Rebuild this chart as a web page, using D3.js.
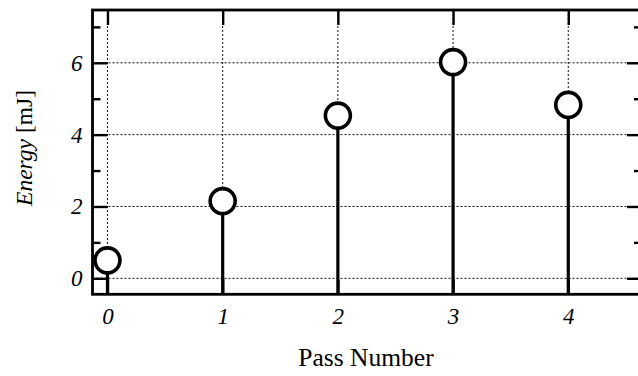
<!DOCTYPE html>
<html>
<head>
<meta charset="utf-8">
<script src="https://cdn.jsdelivr.net/npm/d3@7"></script>
<style>
  html, body { margin: 0; padding: 0; background: #fff; }
  svg { display: block; }
</style>
</head>
<body>
<svg id="chart" width="638" height="376"></svg>
<script>
// Pulse energy measured after each pass
const passes = [0, 1, 2, 3, 4];
const energy = [0.5, 2.15, 4.53, 6.02, 4.83];

const yMajorTicks = [0, 2, 4, 6];
const yMinorTicks = [1, 3, 5, 7];
const xTickLabels = ["0", "1", "2", "3", "4"];

const FONT = "'Liberation Serif'";

const svg = d3.select("#chart");

const plot = { left: 92.5, right: 642, top: 10, bottom: 294.3 };

const x = d3.scaleLinear().domain([-0.13, 4.64]).range([plot.left, plot.right]);
const y = d3.scaleLinear().domain([-0.445, 7.47]).range([plot.bottom, plot.top]);

// dotted grid
const grid = svg.append("g")
  .attr("stroke", "#111").attr("stroke-width", 1).attr("stroke-dasharray", "2,2");
grid.selectAll("line.h").data(yMajorTicks).join("line").attr("class", "h")
  .attr("x1", plot.left).attr("x2", plot.right)
  .attr("y1", d => y(d)).attr("y2", d => y(d));
grid.selectAll("line.v").data(passes).join("line").attr("class", "v")
  .attr("y1", plot.top).attr("y2", plot.bottom)
  .attr("x1", d => x(d)).attr("x2", d => x(d));

// axes with inward ticks
function styleAxis(g) {
  g.attr("font-family", null).attr("font-size", null);
  g.select(".domain").remove();
  g.selectAll(".tick line").attr("stroke", "#000").attr("stroke-width", 2.4);
  g.selectAll(".tick text")
    .style("font-family", FONT)
    .style("font-style", "italic")
    .style("font-size", "23px")
    .attr("fill", "#000");
}

svg.append("g").attr("transform", `translate(${plot.left},0)`)
  .call(d3.axisLeft(y).tickValues(yMajorTicks).tickSize(-15).tickPadding(10).tickFormat(d3.format("d")))
  .call(styleAxis);
svg.append("g").attr("transform", `translate(${plot.left},0)`)
  .call(d3.axisLeft(y).tickValues(yMinorTicks).tickSize(-8).tickFormat(""))
  .call(styleAxis);
svg.append("g").attr("transform", `translate(${plot.right},0)`)
  .call(d3.axisRight(y).tickValues(yMajorTicks).tickSize(-15).tickFormat(""))
  .call(styleAxis);
svg.append("g").attr("transform", `translate(${plot.right},0)`)
  .call(d3.axisRight(y).tickValues(yMinorTicks).tickSize(-8).tickFormat(""))
  .call(styleAxis);
svg.append("g").attr("transform", `translate(0,${plot.bottom})`)
  .call(d3.axisBottom(x).tickValues(passes).tickSize(-15).tickPadding(13).tickFormat((d, i) => xTickLabels[i]))
  .call(styleAxis);
svg.append("g").attr("transform", `translate(0,${plot.top})`)
  .call(d3.axisTop(x).tickValues(passes).tickSize(-15).tickFormat(""))
  .call(styleAxis);

// frame
svg.append("rect")
  .attr("x", plot.left).attr("y", plot.top)
  .attr("width", plot.right - plot.left).attr("height", plot.bottom - plot.top)
  .attr("fill", "none").attr("stroke", "#000").attr("stroke-width", 2.8);

// stems
svg.append("g").selectAll("line").data(passes).join("line")
  .attr("x1", d => x(d)).attr("x2", d => x(d))
  .attr("y1", (d, i) => y(energy[i])).attr("y2", plot.bottom)
  .attr("stroke", "#000").attr("stroke-width", 3.2);

// markers
svg.append("g").selectAll("circle").data(passes).join("circle")
  .attr("cx", d => x(d)).attr("cy", (d, i) => y(energy[i]))
  .attr("r", 12.5)
  .attr("fill", "#fff").attr("stroke", "#000").attr("stroke-width", 3.6);

// axis titles
svg.append("text")
  .attr("transform", "translate(32,148) rotate(-90)")
  .attr("text-anchor", "middle")
  .style("font-family", FONT)
  .style("font-size", "23.5px")
  .attr("fill", "#000")
  .call(t => {
    t.append("tspan").style("font-style", "italic").text("Energy");
    t.append("tspan").text(" [mJ]");
  });

svg.append("text")
  .attr("x", 366).attr("y", 366)
  .attr("text-anchor", "middle")
  .style("font-family", FONT)
  .style("font-size", "25.5px")
  .attr("fill", "#000")
  .text("Pass Number");
</script>
</body>
</html>
